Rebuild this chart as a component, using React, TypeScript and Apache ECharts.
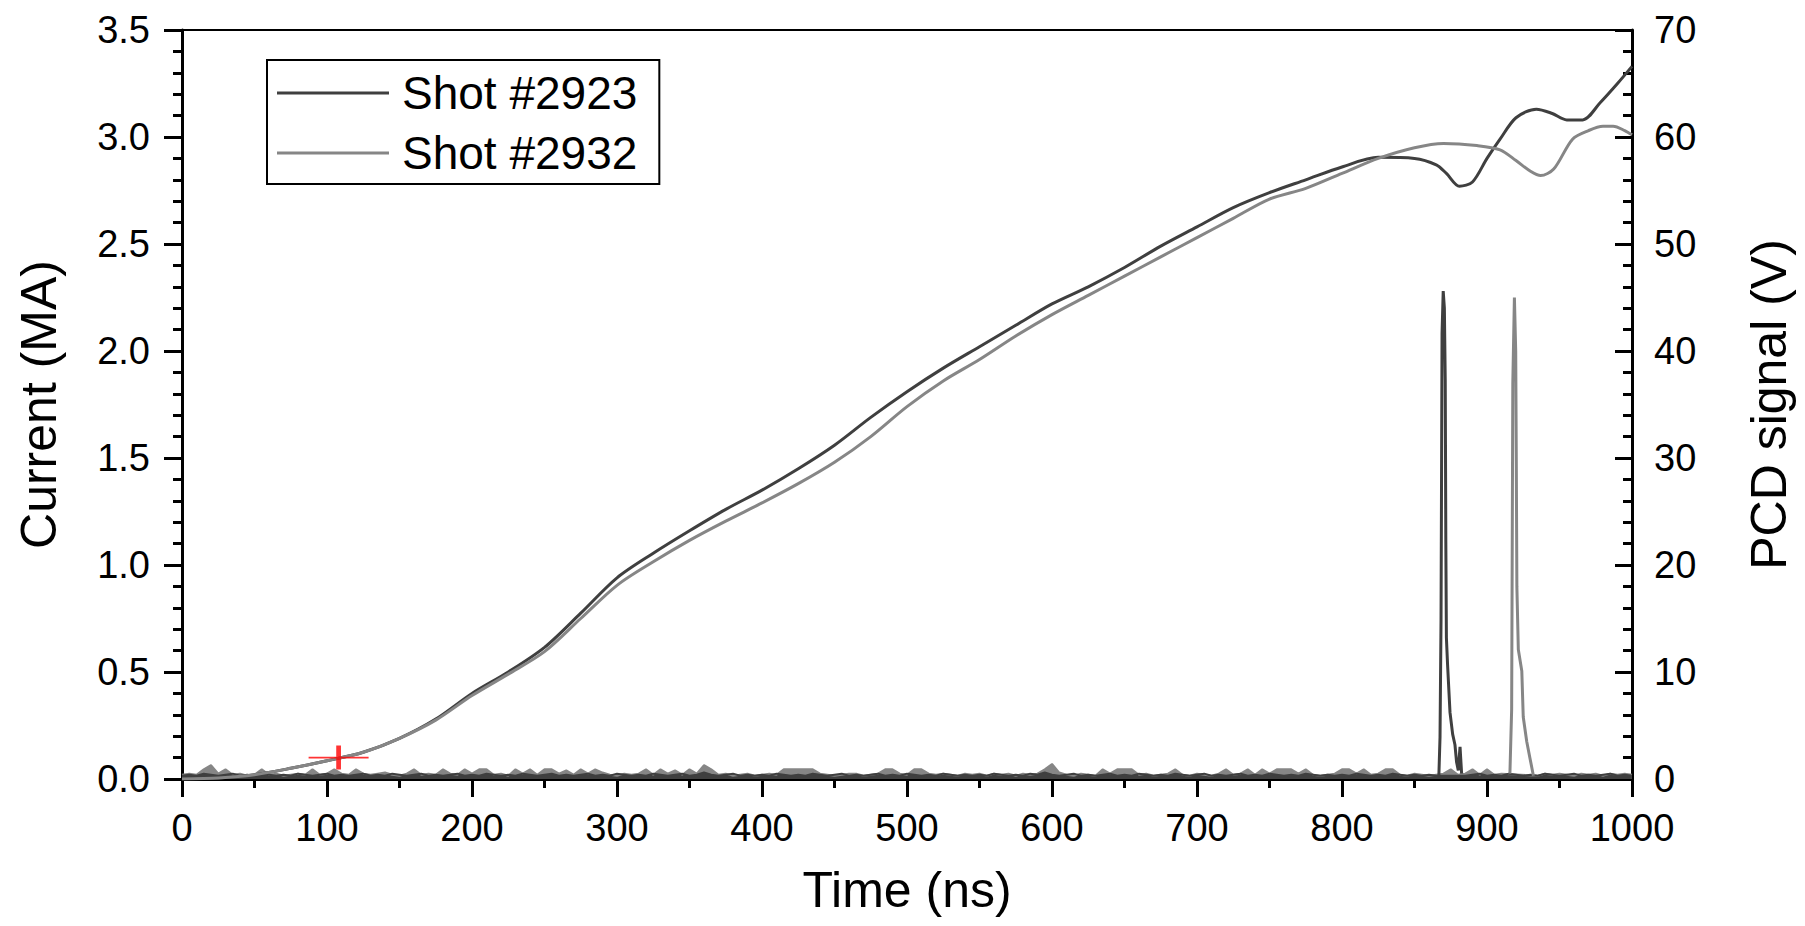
import React, { useEffect, useRef } from "react";
import * as echarts from "echarts";

// ---- Current traces (time in ns, current in MA) ----
const time2923 = [0, 25, 50, 75, 100, 125, 150, 175, 200, 225, 250, 275, 300, 325, 350, 375, 400, 425, 450, 475, 500, 525, 550, 575, 600, 625, 650, 675, 700, 725, 750, 775, 800, 825, 850, 865, 872, 881, 890, 900, 909, 920, 934, 945, 955, 966, 978, 990, 1000];
const current2923 = [0.0, 0.005, 0.02, 0.05, 0.085, 0.125, 0.19, 0.28, 0.4, 0.5, 0.615, 0.775, 0.94, 1.055, 1.16, 1.26, 1.35, 1.45, 1.56, 1.69, 1.81, 1.92, 2.02, 2.12, 2.22, 2.3, 2.39, 2.49, 2.58, 2.67, 2.74, 2.8, 2.86, 2.905, 2.9, 2.87, 2.83, 2.77, 2.79, 2.9, 2.99, 3.09, 3.13, 3.11, 3.08, 3.08, 3.16, 3.25, 3.33];

const time2932 = [0, 25, 50, 75, 100, 125, 150, 175, 200, 225, 250, 275, 300, 325, 350, 375, 400, 425, 450, 475, 500, 525, 550, 575, 600, 625, 650, 675, 700, 725, 750, 775, 800, 825, 850, 870, 893, 909, 920, 930, 937, 946, 959, 970, 980, 987, 995, 1000];
const current2932 = [0.0, 0.005, 0.02, 0.05, 0.085, 0.125, 0.19, 0.275, 0.39, 0.49, 0.595, 0.75, 0.905, 1.015, 1.115, 1.205, 1.29, 1.38, 1.48, 1.6, 1.74, 1.86, 1.96, 2.07, 2.17, 2.26, 2.35, 2.44, 2.53, 2.62, 2.71, 2.76, 2.83, 2.9, 2.95, 2.97, 2.96, 2.94, 2.89, 2.84, 2.82, 2.85, 2.99, 3.03, 3.05, 3.05, 3.03, 3.01];

// ---- PCD signal (V): baseline noise sampled every 5 ns from 0 to 1000 ns ----
const pcdStep = 5;
const pcdNoise2923 = [
  0.3, 0.4, 0.3, 0.5, 0.4, 0.3, 0.4, 0.5, 0.3, 0.4,
  0.3, 0.5, 0.4, 0.3, 0.4, 0.3, 0.5, 0.4, 0.3, 0.4,
  0.5, 0.3, 0.4, 0.3, 0.4, 0.5, 0.3, 0.4, 0.3, 0.5,
  0.4, 0.3, 0.4, 0.5, 0.3, 0.4, 0.3, 0.4, 0.5, 0.3,
  0.4, 0.3, 0.5, 0.4, 0.3, 0.4, 0.3, 0.5, 0.4, 0.3,
  0.4, 0.5, 0.3, 0.4, 0.3, 0.4, 0.5, 0.3, 0.4, 0.3,
  0.5, 0.4, 0.3, 0.4, 0.3, 0.5, 0.4, 0.3, 0.4, 0.5,
  0.3, 0.4, 0.6, 0.4, 0.3, 0.4, 0.5, 0.3, 0.4, 0.3,
  0.4, 0.3, 0.5, 0.4, 0.3, 0.4, 0.3, 0.5, 0.4, 0.3,
  0.4, 0.5, 0.3, 0.4, 0.3, 0.4, 0.5, 0.3, 0.4, 0.3,
  0.5, 0.4, 0.3, 0.4, 0.3, 0.5, 0.4, 0.3, 0.4, 0.3,
  0.4, 0.3, 0.5, 0.4, 0.3, 0.4, 0.3, 0.5, 0.4, 0.6,
  0.4, 0.3, 0.4, 0.5, 0.3, 0.4, 0.3, 0.4, 0.5, 0.3,
  0.4, 0.3, 0.5, 0.4, 0.3, 0.4, 0.3, 0.5, 0.4, 0.3,
  0.4, 0.5, 0.3, 0.4, 0.3, 0.4, 0.5, 0.3, 0.4, 0.3,
  0.5, 0.4, 0.3, 0.4, 0.3, 0.5, 0.4, 0.3, 0.4, 0.3,
  0.4, 0.3, 0.5, 0.4, 0.3, 0.4, 0.3, 0.5, 0.4, 0.3,
  0.4, 0.3, 0.4, 0.3, 0.4, 0.3, 0.4, 0.3, 0.4, 0.5,
  0.3, 0.4, 0.3, 0.5, 0.4, 0.3, 0.4, 0.3, 0.5, 0.4,
  0.3, 0.4, 0.5, 0.3, 0.4, 0.3, 0.4, 0.5, 0.3, 0.4,
  0.3,
];
const pcdNoise2932 = [
  0.4, 0.5, 0.4, 0.9, 1.3, 0.5, 0.9, 0.4, 0.5, 0.3,
  0.4, 0.9, 0.4, 0.5, 0.3, 0.4, 0.5, 0.4, 0.9, 0.4,
  0.5, 0.9, 0.5, 0.4, 0.9, 0.5, 0.4, 0.5, 0.6, 0.4,
  0.3, 0.5, 0.9, 0.4, 0.5, 0.4, 0.9, 0.5, 0.4, 0.9,
  0.5, 0.9, 0.9, 0.4, 0.5, 0.3, 0.9, 0.5, 0.9, 0.4,
  0.9, 0.9, 0.5, 0.8, 0.4, 0.9, 0.5, 0.9, 0.6, 0.4,
  0.3, 0.5, 0.4, 0.5, 0.9, 0.4, 0.9, 0.5, 0.8, 0.4,
  0.9, 0.5, 1.3, 0.9, 0.4, 0.5, 0.3, 0.4, 0.5, 0.3,
  0.4, 0.5, 0.4, 0.9, 0.9, 0.9, 0.9, 0.9, 0.5, 0.4,
  0.3, 0.4, 0.5, 0.5, 0.3, 0.4, 0.5, 0.9, 0.9, 0.5,
  0.4, 0.9, 0.9, 0.5, 0.4, 0.5, 0.4, 0.3, 0.5, 0.4,
  0.5, 0.3, 0.5, 0.4, 0.5, 0.3, 0.5, 0.4, 0.5, 0.9,
  1.4, 0.6, 0.4, 0.3, 0.5, 0.4, 0.3, 0.9, 0.5, 0.9,
  0.9, 0.9, 0.4, 0.5, 0.3, 0.4, 0.5, 0.9, 0.4, 0.3,
  0.5, 0.4, 0.3, 0.5, 0.9, 0.4, 0.5, 0.9, 0.4, 0.9,
  0.5, 0.9, 0.9, 0.9, 0.5, 0.9, 0.4, 0.3, 0.4, 0.5,
  0.9, 0.9, 0.5, 0.9, 0.4, 0.5, 0.9, 0.9, 0.4, 0.3,
  0.5, 0.4, 0.3, 0.4, 0.5, 0.9, 0.4, 0.5, 0.9, 0.4,
  0.9, 0.4, 0.5, 0.6, 0.4, 0.5, 0.4, 0.3, 0.5, 0.4,
  0.5, 0.4, 0.3, 0.5, 0.4, 0.5, 0.3, 0.5, 0.4, 0.5,
  0.4,
];

// ---- PCD spikes: [time ns, volts] ----
const spike2923Window = [866, 884];
const spike2923 = [
  [866.8, 0.3], [867.6, 3.9], [868.3, 14.9], [869.0, 41.6], [869.8, 45.6], [870.6, 44.0],
  [871.2, 37.3], [871.6, 22.2], [872.0, 13.2], [872.8, 10.7], [874.5, 6.2], [876.3, 4.2],
  [877.9, 3.2], [879.0, 1.6], [880.2, 0.8], [881.4, 3.0], [882.5, 0.5],
];
const spike2932Window = [914, 933];
const spike2932 = [
  [915.8, 0.5], [917.0, 6.5], [917.8, 37.0], [918.9, 45.0], [919.8, 40.0], [920.2, 29.8],
  [920.6, 18.0], [921.6, 12.1], [924.0, 10.1], [925.0, 5.8], [927.4, 3.5], [929.7, 1.9],
  [932.0, 0.3],
];

// ---- Marker (red cross) ----
const markerPoint = [108, 0.1];

// ---- Axes ----
const xMin = 0, xMax = 1000, xInterval = 100;
const yMin = 0, yMax = 3.5, yInterval = 0.5;
const y2Min = 0, y2Max = 70, y2Interval = 10;

const names = ["Shot #2923", "Shot #2932"];
const colors = ["#3f3f3f", "#868686"];

function zip(t: number[], v: number[]) {
  return t.map((x, i) => [x, v[i]]);
}
function buildNoise(noise: number[], win: number[]) {
  const pts: number[][] = [];
  noise.forEach((v, i) => {
    const t = i * pcdStep;
    if (t < win[0] || t > win[1]) pts.push([t, v]);
  });
  return pts;
}

const FONT = "'Liberation Sans', Arial, sans-serif";

export default function App() {
  const ref = useRef<HTMLDivElement>(null);
  useEffect(() => {
    if (!ref.current) return;
    const chart = echarts.init(ref.current, undefined, { renderer: "svg" });
    const axisLine = { show: true, lineStyle: { color: "#000", width: 3 } };
    const option: any = {
      animation: false,
      backgroundColor: "#fff",
      textStyle: { fontFamily: FONT },
      grid: {
        left: 182, right: 173, top: 30, bottom: 147,
        show: true, borderColor: "#000", borderWidth: 2, containLabel: false,
      },
      legend: {
        data: names,
        orient: "vertical",
        left: 267,
        top: 60,
        padding: [10, 22, 8, 10],
        itemGap: 14,
        itemWidth: 112,
        itemHeight: 3,
        icon: "rect",
        borderColor: "#000",
        borderWidth: 2,
        borderRadius: 0,
        textStyle: { fontSize: 46, color: "#000", fontFamily: FONT, padding: [0, 0, 0, 8] },
      },
      xAxis: {
        type: "value",
        min: xMin, max: xMax, interval: xInterval,
        name: "Time (ns)",
        nameLocation: "middle",
        nameGap: 86,
        nameTextStyle: { fontSize: 50, color: "#000", fontFamily: FONT },
        axisLine,
        axisTick: { show: true, inside: false, length: 18, lineStyle: { color: "#000", width: 3 } },
        minorTick: { show: true, splitNumber: 2, length: 9, lineStyle: { color: "#000", width: 3 } },
        axisLabel: { fontSize: 38, color: "#000", margin: 30, fontFamily: FONT, formatter: (v: number) => String(v) },
        splitLine: { show: false },
      },
      yAxis: [
        {
          type: "value",
          min: yMin, max: yMax, interval: yInterval,
          position: "left",
          name: "Current (MA)",
          nameLocation: "middle",
          nameGap: 118,
          nameTextStyle: { fontSize: 50, color: "#000", fontFamily: FONT },
          axisLine,
          axisTick: { show: true, inside: false, length: 18, lineStyle: { color: "#000", width: 3 } },
          minorTick: { show: true, splitNumber: 5, length: 9, lineStyle: { color: "#000", width: 3 } },
          axisLabel: { fontSize: 38, color: "#000", margin: 32, fontFamily: FONT, formatter: (v: number) => v.toFixed(1) },
          splitLine: { show: false },
        },
        {
          type: "value",
          min: y2Min, max: y2Max, interval: y2Interval,
          position: "right",
          name: "PCD signal (V)",
          nameLocation: "middle",
          nameGap: 112,
          nameRotate: 90,
          nameTextStyle: { fontSize: 50, color: "#000", fontFamily: FONT },
          axisLine,
          axisTick: { show: true, inside: true, length: 17, lineStyle: { color: "#000", width: 3 } },
          minorTick: { show: true, splitNumber: 5, length: 9, lineStyle: { color: "#000", width: 3 } },
          axisLabel: { fontSize: 38, color: "#000", margin: 22, fontFamily: FONT },
          splitLine: { show: false },
        },
      ],
      series: [
        {
          name: names[1], type: "line", yAxisIndex: 1, showSymbol: false, symbol: "none",
          data: buildNoise(pcdNoise2932, spike2932Window),
          lineStyle: { color: colors[1], width: 2 }, itemStyle: { color: colors[1] },
          areaStyle: { color: colors[1], opacity: 1 }, z: 2,
        },
        {
          name: names[0], type: "line", yAxisIndex: 1, showSymbol: false, symbol: "none",
          data: buildNoise(pcdNoise2923, spike2923Window),
          lineStyle: { color: colors[0], width: 2 }, itemStyle: { color: colors[0] },
          areaStyle: { color: colors[0], opacity: 1 }, z: 2,
        },
        {
          name: names[1], type: "line", yAxisIndex: 1, showSymbol: false, symbol: "none",
          data: spike2932,
          lineStyle: { color: colors[1], width: 3 }, itemStyle: { color: colors[1] }, z: 2,
        },
        {
          name: names[0], type: "line", yAxisIndex: 1, showSymbol: false, symbol: "none",
          data: spike2923,
          lineStyle: { color: colors[0], width: 3 }, itemStyle: { color: colors[0] }, z: 2,
        },
        {
          name: names[0], type: "line", yAxisIndex: 0, showSymbol: false, symbol: "none", smooth: 0.3,
          data: zip(time2923, current2923),
          lineStyle: { color: colors[0], width: 3 }, itemStyle: { color: colors[0] }, z: 3,
        },
        {
          name: names[1], type: "line", yAxisIndex: 0, showSymbol: false, symbol: "none", smooth: 0.3,
          data: zip(time2932, current2932),
          lineStyle: { color: colors[1], width: 3 }, itemStyle: { color: colors[1] }, z: 3,
        },
        {
          name: "marker", type: "scatter", yAxisIndex: 0,
          data: [markerPoint],
          symbol: "path://M0,12L60,12M30,0L30,24",
          symbolSize: [60, 24],
          itemStyle: { color: "none", borderColor: "#ff0000", borderWidth: 3 },
          z: 5,
        },
      ],
    };
    chart.setOption(option);
    return () => chart.dispose();
  }, []);
  return (
    <div
      ref={ref}
      style={{ position: "fixed", left: 0, top: 0, width: 1805, height: 926, background: "#fff" }}
    />
  );
}
